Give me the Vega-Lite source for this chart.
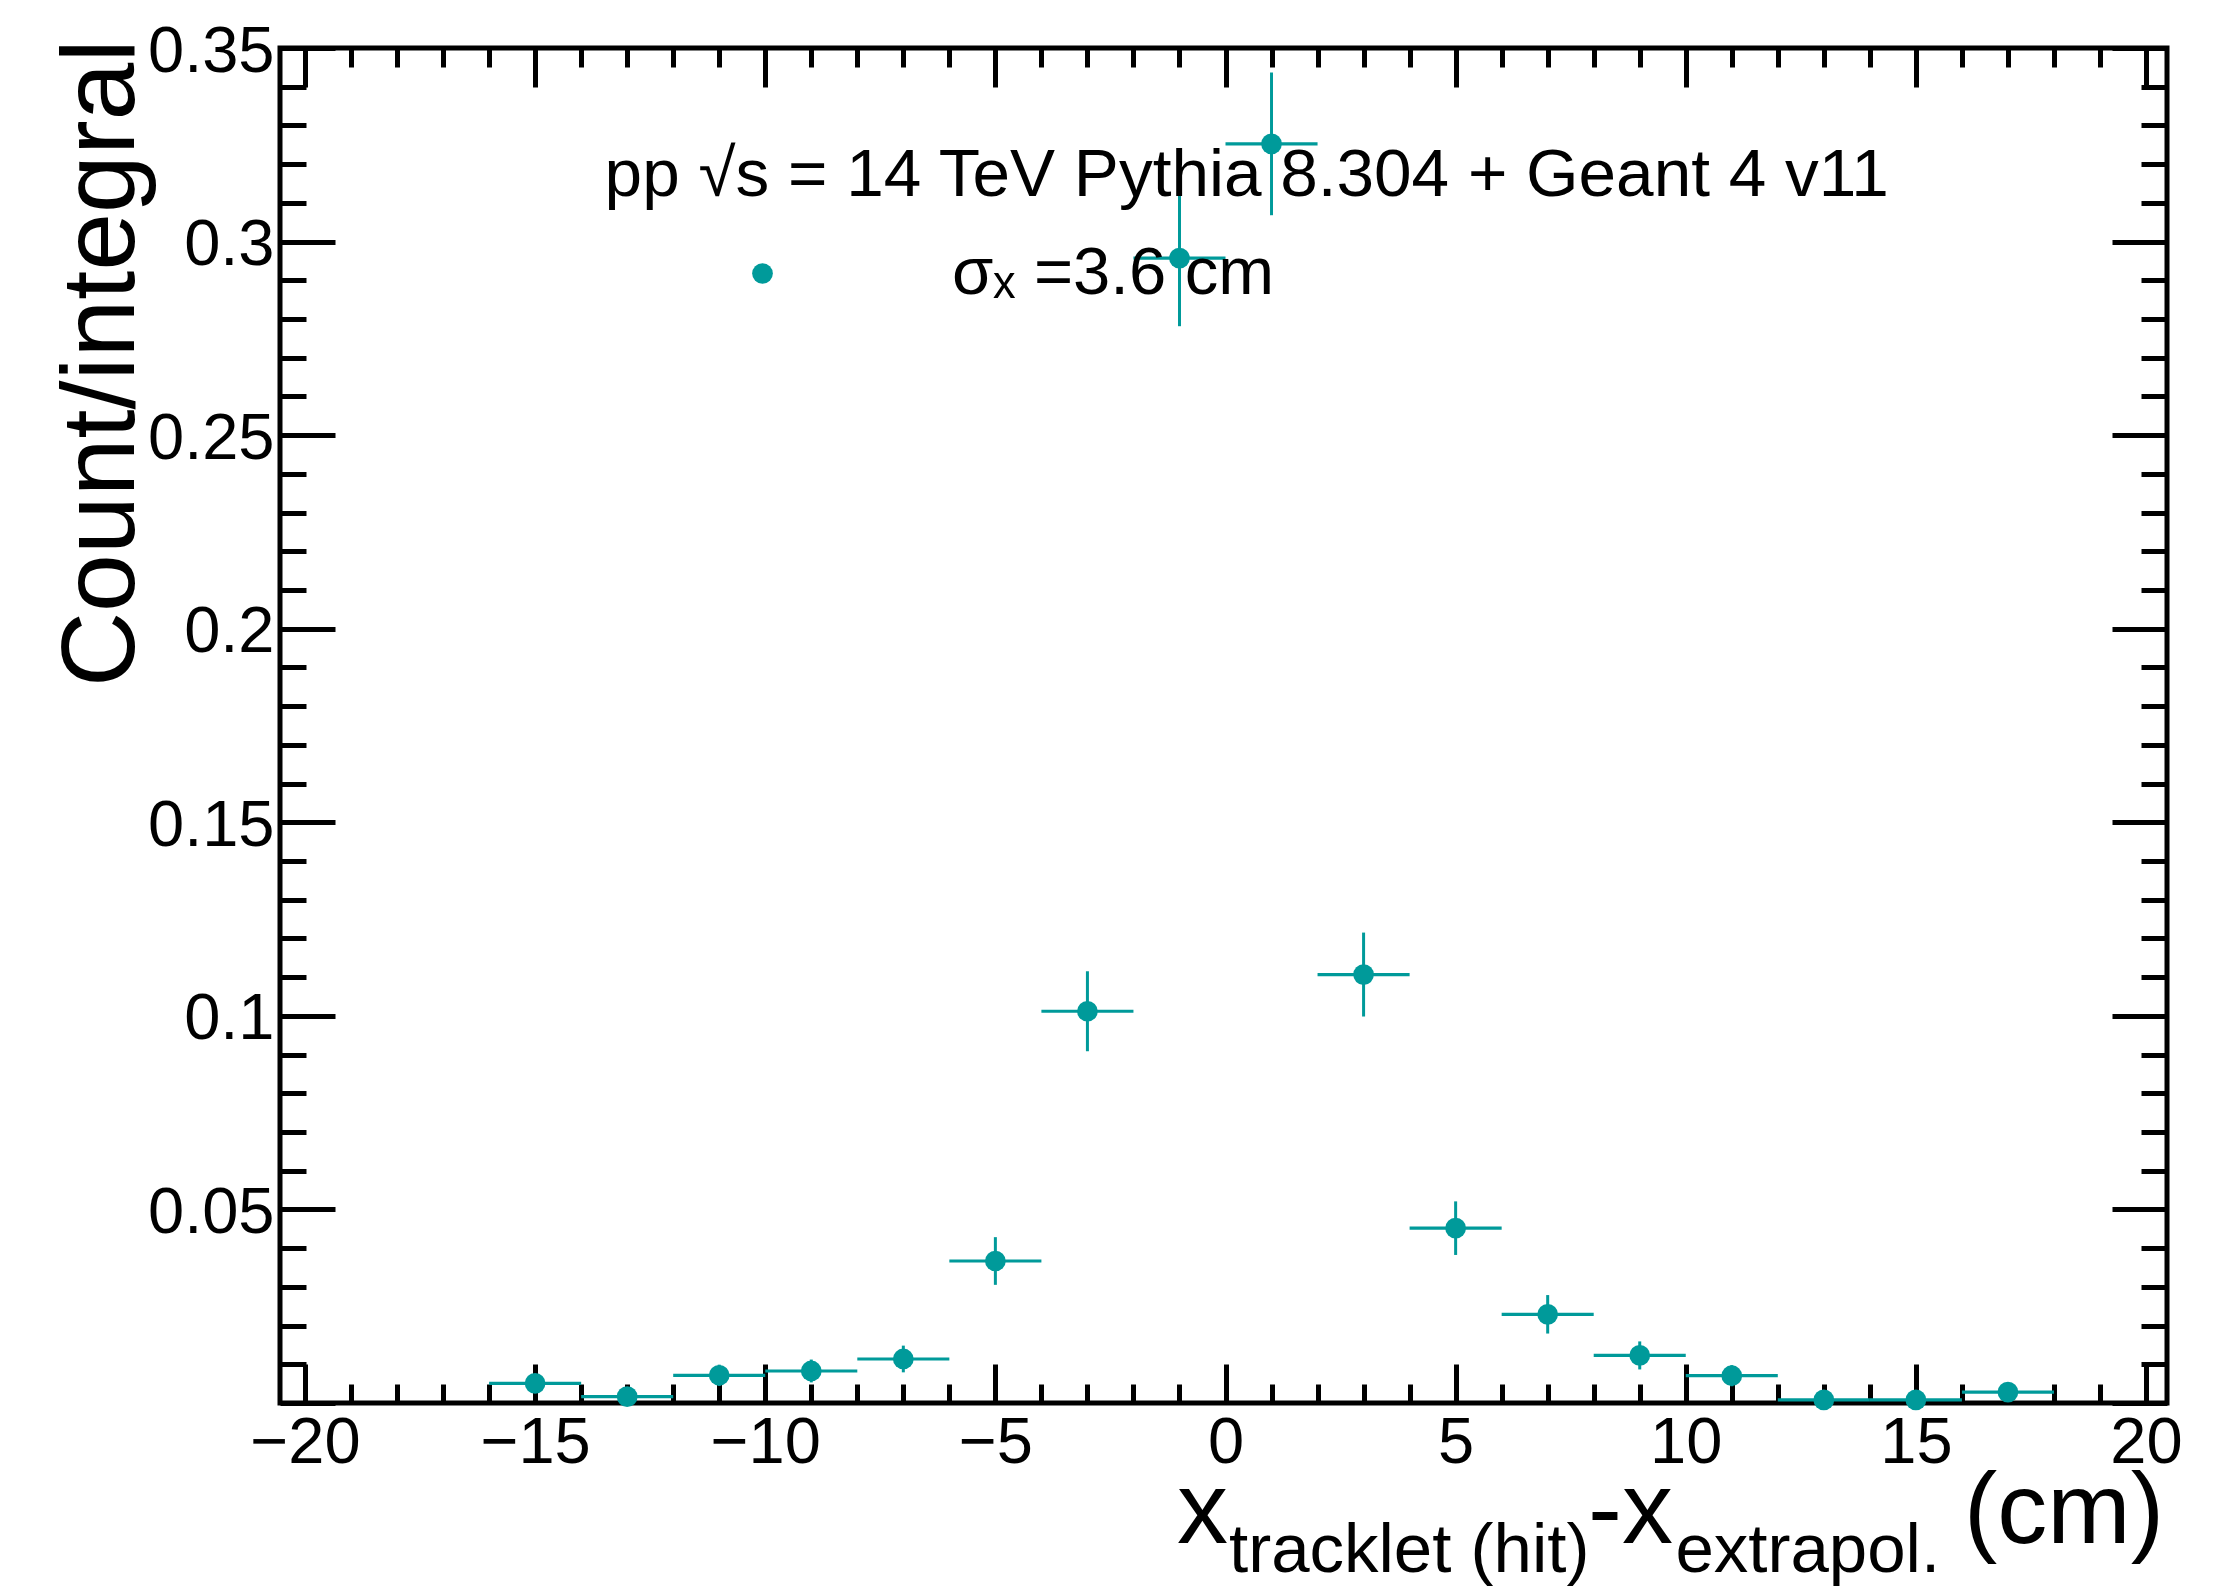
{
  "$schema": "https://vega.github.io/schema/vega-lite/v6.json",
  "width": 1887,
  "height": 1355,
  "autosize": {"type": "none"},
  "padding": {"left": 280, "top": 48, "right": 52, "bottom": 188},
  "background": "white",
  "config": {
    "view": {"stroke": "black", "strokeWidth": 5},
    "font": "Liberation Sans",
    "text": {"font": "Liberation Sans", "color": "black"}
  },
  "datasets": {
    "bins": [
      {"x": -15, "xlo": -16, "xhi": -14, "y": 0.00509, "ylo": 0.00278, "yhi": 0.00740},
      {"x": -13, "xlo": -14, "xhi": -12, "y": 0.00163, "ylo": 0.00032, "yhi": 0.00294},
      {"x": -11, "xlo": -12, "xhi": -10, "y": 0.00716, "ylo": 0.00442, "yhi": 0.00990},
      {"x": -9, "xlo": -10, "xhi": -8, "y": 0.00827, "ylo": 0.00532, "yhi": 0.01122},
      {"x": -7, "xlo": -8, "xhi": -6, "y": 0.01137, "ylo": 0.00792, "yhi": 0.01482},
      {"x": -5, "xlo": -6, "xhi": -4, "y": 0.03668, "ylo": 0.03052, "yhi": 0.04284},
      {"x": -3, "xlo": -4, "xhi": -2, "y": 0.10119, "ylo": 0.09086, "yhi": 0.11152},
      {"x": -1, "xlo": -2, "xhi": 0, "y": 0.29571, "ylo": 0.27814, "yhi": 0.31328},
      {"x": 1, "xlo": 0, "xhi": 2, "y": 0.32524, "ylo": 0.30681, "yhi": 0.34367},
      {"x": 3, "xlo": 2, "xhi": 4, "y": 0.11067, "ylo": 0.09983, "yhi": 0.12151},
      {"x": 5, "xlo": 4, "xhi": 6, "y": 0.04516, "ylo": 0.03824, "yhi": 0.05208},
      {"x": 7, "xlo": 6, "xhi": 8, "y": 0.02291, "ylo": 0.01794, "yhi": 0.02788},
      {"x": 9, "xlo": 8, "xhi": 10, "y": 0.01229, "ylo": 0.00867, "yhi": 0.01591},
      {"x": 11, "xlo": 10, "xhi": 12, "y": 0.00705, "ylo": 0.00433, "yhi": 0.00977},
      {"x": 13, "xlo": 12, "xhi": 14, "y": 0.0008, "ylo": 0.0, "yhi": 0.00172},
      {"x": 15, "xlo": 14, "xhi": 16, "y": 0.0008, "ylo": 0.0, "yhi": 0.00172},
      {"x": 17, "xlo": 16, "xhi": 18, "y": 0.00282, "ylo": 0.0011, "yhi": 0.00454}
    ]
  },
  "data": {"name": "bins"},
  "resolve": {"axis": {"x": "independent", "y": "independent"}},
  "layer": [
    {
      "mark": {"type": "rule", "color": "#009a9a", "strokeWidth": 3.2},
      "encoding": {
        "x": {"field": "xlo", "type": "quantitative",
          "scale": {"domain": [-20.543, 20.456], "nice": false, "zero": false},
          "axis": {
            "orient": "bottom",
            "values": [-20,-19,-18,-17,-16,-15,-14,-13,-12,-11,-10,-9,-8,-7,-6,-5,-4,-3,-2,-1,0,1,2,3,4,5,6,7,8,9,10,11,12,13,14,15,16,17,18,19,20],
            "domain": false, "grid": false,
            "tickColor": "black", "tickWidth": 5,
            "tickSize": {"condition": {"test": "datum.value % 5 === 0", "value": -39}, "value": -19},
            "labelExpr": "datum.value % 5 === 0 ? datum.label : ''",
            "labelFont": "Liberation Sans", "labelFontSize": 65, "labelColor": "black",
            "labelPadding": 47, "labelOverlap": false, "labelFlush": false, "labelBound": false,
            "title": null
          }
        },
        "x2": {"field": "xhi"},
        "y": {"field": "y", "type": "quantitative",
          "scale": {"domain": [0, 0.35], "nice": false, "zero": false},
          "axis": {
            "orient": "left",
            "values": [0,0.01,0.02,0.03,0.04,0.05,0.06,0.07,0.08,0.09,0.1,0.11,0.12,0.13,0.14,0.15,0.16,0.17,0.18,0.19,0.2,0.21,0.22,0.23,0.24,0.25,0.26,0.27,0.28,0.29,0.3,0.31,0.32,0.33,0.34,0.35],
            "domain": false, "grid": false,
            "tickColor": "black", "tickWidth": 5,
            "tickSize": {"condition": {"test": "round(datum.value*100) % 5 === 0", "value": -55}, "value": -26},
            "labelExpr": "round(datum.value*100) % 5 === 0 && datum.value > 0 ? format(datum.value, '.2~f') : ''",
            "labelFont": "Liberation Sans", "labelFontSize": 65, "labelColor": "black",
            "labelPadding": 61, "labelOffset": 3, "labelOverlap": false, "labelFlush": false, "labelBound": false,
            "title": "Count/integral",
            "titleFont": "Liberation Sans", "titleFontSize": 104, "titleFontWeight": "normal", "titleColor": "black",
            "titleAngle": 270, "titleAlign": "right", "titleBaseline": "alphabetic",
            "titleX": -147, "titleY": -9
          }
        }
      }
    },
    {
      "mark": {"type": "rule", "color": "#009a9a", "strokeWidth": 3},
      "encoding": {
        "x": {"field": "x", "type": "quantitative",
          "scale": {"domain": [-20.543, 20.456], "nice": false, "zero": false},
          "axis": {
            "orient": "top",
            "values": [-20,-19,-18,-17,-16,-15,-14,-13,-12,-11,-10,-9,-8,-7,-6,-5,-4,-3,-2,-1,0,1,2,3,4,5,6,7,8,9,10,11,12,13,14,15,16,17,18,19,20],
            "domain": false, "grid": false, "labels": false,
            "tickColor": "black", "tickWidth": 5,
            "tickSize": {"condition": {"test": "datum.value % 5 === 0", "value": -39}, "value": -19},
            "title": null
          }
        },
        "y": {"field": "ylo", "type": "quantitative",
          "scale": {"domain": [0, 0.35], "nice": false, "zero": false},
          "axis": {
            "orient": "right",
            "values": [0,0.01,0.02,0.03,0.04,0.05,0.06,0.07,0.08,0.09,0.1,0.11,0.12,0.13,0.14,0.15,0.16,0.17,0.18,0.19,0.2,0.21,0.22,0.23,0.24,0.25,0.26,0.27,0.28,0.29,0.3,0.31,0.32,0.33,0.34,0.35],
            "domain": false, "grid": false, "labels": false,
            "tickColor": "black", "tickWidth": 5,
            "tickSize": {"condition": {"test": "round(datum.value*100) % 5 === 0", "value": -55}, "value": -26},
            "title": null
          }
        },
        "y2": {"field": "yhi"}
      }
    },
    {
      "mark": {"type": "circle", "opacity": 1, "size": 430},
      "encoding": {
        "x": {"field": "x", "type": "quantitative", "scale": {"domain": [-20.543, 20.456], "nice": false, "zero": false}, "axis": null},
        "y": {"field": "y", "type": "quantitative", "scale": {"domain": [0, 0.35], "nice": false, "zero": false}, "axis": null},
        "color": {
          "datum": "σₓ =3.6 cm", "type": "nominal",
          "scale": {"range": ["#009a9a"]},
          "legend": {
            "orient": "none", "legendX": 449, "legendY": 192,
            "title": null, "padding": 0,
            "labelFont": "Liberation Sans", "labelFontSize": 67, "labelColor": "black",
            "labelOffset": 156, "labelLimit": 0,
            "symbolType": "circle", "symbolSize": 430, "symbolStrokeWidth": 0, "symbolOpacity": 1
          }
        }
      }
    },
    {
      "data": {"values": [{}]},
      "mark": {"type": "text", "text": "pp √s = 14 TeV Pythia 8.304 + Geant 4 v11", "fontSize": 67.5, "align": "left", "baseline": "alphabetic"},
      "encoding": {
        "x": {"datum": -13.49, "type": "quantitative", "scale": {"domain": [-20.543, 20.456], "nice": false, "zero": false}, "axis": null},
        "y": {"datum": 0.3118, "type": "quantitative", "scale": {"domain": [0, 0.35], "nice": false, "zero": false}, "axis": null}
      }
    },
    {
      "data": {"values": [{}]},
      "mark": {"type": "text", "text": "x", "fontSize": 102, "align": "left", "baseline": "alphabetic"},
      "encoding": {
        "x": {"datum": -1.053, "type": "quantitative", "scale": {"domain": [-20.543, 20.456], "nice": false, "zero": false}, "axis": null},
        "y": {"datum": -0.03617, "type": "quantitative", "scale": {"domain": [0, 0.35], "nice": false, "zero": false}, "axis": null}
      }
    },
    {
      "data": {"values": [{}]},
      "mark": {"type": "text", "text": "tracklet (hit)", "fontSize": 69, "align": "left", "baseline": "alphabetic"},
      "encoding": {
        "x": {"datum": 0.076, "type": "quantitative", "scale": {"domain": [-20.543, 20.456], "nice": false, "zero": false}, "axis": null},
        "y": {"datum": -0.04366, "type": "quantitative", "scale": {"domain": [0, 0.35], "nice": false, "zero": false}, "axis": null}
      }
    },
    {
      "data": {"values": [{}]},
      "mark": {"type": "text", "text": "-x", "fontSize": 102, "align": "left", "baseline": "alphabetic"},
      "encoding": {
        "x": {"datum": 7.876, "type": "quantitative", "scale": {"domain": [-20.543, 20.456], "nice": false, "zero": false}, "axis": null},
        "y": {"datum": -0.03617, "type": "quantitative", "scale": {"domain": [0, 0.35], "nice": false, "zero": false}, "axis": null}
      }
    },
    {
      "data": {"values": [{}]},
      "mark": {"type": "text", "text": "extrapol.", "fontSize": 69, "align": "left", "baseline": "alphabetic"},
      "encoding": {
        "x": {"datum": 9.775, "type": "quantitative", "scale": {"domain": [-20.543, 20.456], "nice": false, "zero": false}, "axis": null},
        "y": {"datum": -0.04366, "type": "quantitative", "scale": {"domain": [0, 0.35], "nice": false, "zero": false}, "axis": null}
      }
    },
    {
      "data": {"values": [{}]},
      "mark": {"type": "text", "text": "(cm)", "fontSize": 100, "align": "left", "baseline": "alphabetic"},
      "encoding": {
        "x": {"datum": 16.046, "type": "quantitative", "scale": {"domain": [-20.543, 20.456], "nice": false, "zero": false}, "axis": null},
        "y": {"datum": -0.03617, "type": "quantitative", "scale": {"domain": [0, 0.35], "nice": false, "zero": false}, "axis": null}
      }
    }
  ]
}
